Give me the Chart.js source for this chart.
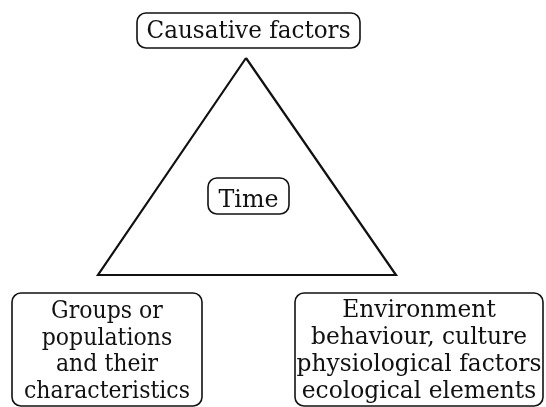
<!DOCTYPE html>
<html>
<head>
<meta charset="utf-8">
<script src="https://cdn.jsdelivr.net/npm/chart.js@4"></script>
<style>
  body { margin: 0; background: #fff; }
  canvas { display: block; }
</style>
</head>
<body>
<canvas id="diagram" width="546" height="407"></canvas>
<script>
// Triangle corners (apex, bottom-left, bottom-right), in diagram units
const cornerX = [246, 98, 396, 246];
const cornerY = [58, 275, 275, 58];

// Text of each box, one entry per line
const topLabel = ['Causative factors'];
const centerLabel = ['Time'];
const leftLabel = ['Groups or', 'populations', 'and their', 'characteristics'];
const rightLabel = ['Environment', 'behaviour, culture', 'physiological factors', 'ecological elements'];

// Where the boxes sit (x0, y0, x1, y1), first baseline, line step,
// and how wide the widest line may be
const boxes = [
  { lines: topLabel, box: [137, 13, 360, 48], first: 38, step: 0, size: 25, fit: 204 },
  { lines: centerLabel, box: [208, 178, 289, 214], first: 207, step: 0, size: 25, fit: 60 },
  { lines: leftLabel, box: [12, 293, 202, 406], first: 318, step: 26.7, size: 25, fit: 166 },
  { lines: rightLabel, box: [295, 293, 543, 406], first: 317, step: 27, size: 25, fit: 245 },
];

const ctx = document.getElementById('diagram').getContext('2d');

// Draws the rounded boxes and their text on top of the triangle
const boxPlugin = {
  id: 'boxes',
  afterDatasetsDraw(chart) {
    const c = chart.ctx;
    const xs = chart.scales.x;
    const ys = chart.scales.y;
    c.save();
    boxes.forEach(b => {
      const x0 = xs.getPixelForValue(b.box[0]);
      const y0 = ys.getPixelForValue(b.box[1]);
      const x1 = xs.getPixelForValue(b.box[2]);
      const y1 = ys.getPixelForValue(b.box[3]);
      c.beginPath();
      c.roundRect(x0, y0, x1 - x0, y1 - y0, 9);
      c.fillStyle = '#fff';
      c.fill();
      c.lineWidth = 1.6;
      c.strokeStyle = '#111';
      c.stroke();

      c.fillStyle = '#111';
      c.font = b.size + 'px "DejaVu Serif"';
      c.textAlign = 'center';
      c.textBaseline = 'alphabetic';
      const cx = (x0 + x1) / 2;
      // squeeze all lines of a box by the same amount so the widest fits
      const widest = Math.max(...b.lines.map(l => c.measureText(l).width));
      const sx = Math.min(1, b.fit / widest);
      b.lines.forEach((line, i) => {
        const y = ys.getPixelForValue(b.first + i * b.step);
        c.save();
        c.translate(cx, y);
        c.scale(sx, 1);
        c.fillText(line, 0, 0);
        c.restore();
      });
    });
    c.restore();
  }
};

new Chart(ctx, {
  type: 'scatter',
  data: {
    datasets: [{
      data: cornerX.map((x, i) => ({ x: x, y: cornerY[i] })),
      showLine: true,
      borderColor: '#111',
      borderWidth: 2.2,
      pointRadius: 0,
      tension: 0,
      fill: false,
    }]
  },
  options: {
    responsive: false,
    animation: false,
    layout: { padding: 0 },
    scales: {
      x: { type: 'linear', min: 0, max: 546, display: false },
      y: { type: 'linear', min: 0, max: 407, reverse: true, display: false }
    },
    plugins: {
      legend: { display: false },
      tooltip: { enabled: false }
    }
  },
  plugins: [boxPlugin]
});
</script>
</body>
</html>
